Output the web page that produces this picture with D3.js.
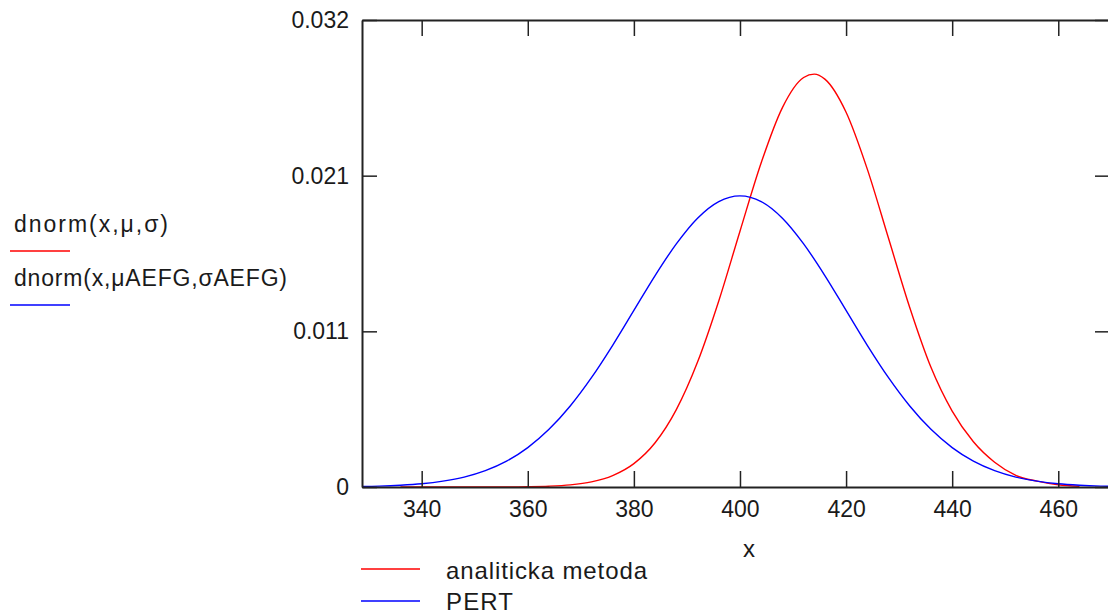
<!DOCTYPE html>
<html>
<head>
<meta charset="utf-8">
<script src="https://cdn.jsdelivr.net/npm/d3@7"></script>
<style>
  html, body { margin: 0; padding: 0; background: #fff; }
  svg { display: block; font-family: "Liberation Sans", Arial, sans-serif; }
</style>
</head>
<body>
<svg id="chart" width="1108" height="615"></svg>
<script>
// ---- data ----
const redX  = [336, 340, 344, 348, 352, 356, 360, 364, 368, 372, 376, 380, 384, 388, 392, 396, 400, 404, 408, 412, 414, 416, 420, 424, 428, 432, 436, 440, 444, 448, 452, 456, 460, 464];
const redY  = [0, 0, 0, 0, 0.000002, 0.000006, 0.00002, 0.000055, 0.000145, 0.00035, 0.00078, 0.0016, 0.00303, 0.0053, 0.00856, 0.01275, 0.01753, 0.02222, 0.0260, 0.02806, 0.02829, 0.02795, 0.02568, 0.02178, 0.01704, 0.0123, 0.0082, 0.0052, 0.0031, 0.0017, 0.0008, 0.0004, 0.00015, 0.00005];
const blueX = [328, 332, 336, 340, 344, 348, 352, 356, 360, 364, 368, 372, 376, 380, 384, 388, 392, 396, 400, 404, 408, 412, 416, 420, 424, 428, 432, 436, 440, 444, 448, 452, 456, 460, 464, 468, 472];
const blueY = [0.00003, 0.00006, 0.00012, 0.00022, 0.0004, 0.00068, 0.00112, 0.00177, 0.0027, 0.00395, 0.00555, 0.00749, 0.00971, 0.0121, 0.01449, 0.01666, 0.01842, 0.01956, 0.01995, 0.01956, 0.01842, 0.01666, 0.01449, 0.0121, 0.00971, 0.00749, 0.00555, 0.00395, 0.0027, 0.00177, 0.00112, 0.00068, 0.0004, 0.00022, 0.00012, 0.00006, 0.00003];
const xTicks = [340, 360, 380, 400, 420, 440, 460];
const yMax = 0.032;
const yTicks = [0, yMax / 3, 2 * yMax / 3, yMax];
const yTickLabels = ["0", "0.011", "0.021", "0.032"];
const seriesNames = ["analiticka metoda", "PERT"];
const leftLegendNames = ["dnorm(x,\u03bc,\u03c3)", "dnorm(x,\u03bcAEFG,\u03c3AEFG)"];
const xLabel = "x";

// ---- layout ----
const svg = d3.select("#chart");
const L = 362, R = 1110, T = 20, B = 487;
const x = d3.scaleLinear().domain([328.75, 469.75]).range([L, R]);
const y = d3.scaleLinear().domain([0, yMax]).range([B, T]);
const axisColor = "#222";
const textColor = "#1a1a1a";

svg.append("defs").append("clipPath").attr("id", "plotclip")
  .append("rect").attr("x", L).attr("y", T - 2).attr("width", R - L).attr("height", B - T + 2);

// curves
const line = d3.line().x(d => x(d[0])).y(d => y(d[1])).curve(d3.curveMonotoneX);
const g = svg.append("g").attr("clip-path", "url(#plotclip)");
g.append("path").datum(d3.zip(redX, redY)).attr("d", line)
  .attr("fill", "none").attr("stroke", "#ff0000").attr("stroke-width", 1.4);
g.append("path").datum(d3.zip(blueX, blueY)).attr("d", line)
  .attr("fill", "none").attr("stroke", "#0000ff").attr("stroke-width", 1.4);

// axes
function styleAxis(sel) {
  sel.select(".domain").attr("stroke", axisColor).attr("stroke-width", 2);
  sel.selectAll(".tick line").attr("stroke", axisColor).attr("stroke-width", 1.5);
  sel.selectAll(".tick text").attr("fill", textColor).style("font-size", "23px");
}
const xAxis = svg.append("g").attr("transform", `translate(0,${B})`)
  .call(d3.axisBottom(x).tickValues(xTicks).tickSizeInner(-16).tickSizeOuter(0).tickPadding(14).tickFormat(d3.format("d")));
styleAxis(xAxis);
const xTop = svg.append("g").attr("transform", `translate(0,${T})`)
  .call(d3.axisTop(x).tickValues(xTicks).tickSizeInner(-16).tickSizeOuter(0).tickFormat(""));
styleAxis(xTop);
const yAxis = svg.append("g").attr("transform", `translate(${L},0)`)
  .call(d3.axisLeft(y).tickValues(yTicks).tickSizeInner(-15).tickSizeOuter(0).tickPadding(13)
    .tickFormat((d, i) => yTickLabels[i]));
styleAxis(yAxis);
const yRight = svg.append("g").attr("transform", `translate(${R},0)`)
  .call(d3.axisRight(y).tickValues(yTicks).tickSizeInner(-15).tickSizeOuter(0).tickFormat(""));
styleAxis(yRight);

// x label
svg.append("text").attr("x", 749).attr("y", 557).attr("text-anchor", "middle")
  .attr("fill", textColor).style("font-size", "24px").text(xLabel);

// left legend
const leftColors = ["#ff0000", "#0000ff"];
const leftBase = [232, 286];
const leftWidths = [154, 273];
leftLegendNames.forEach((name, i) => {
  svg.append("text").attr("x", 14).attr("y", leftBase[i]).attr("fill", textColor)
    .attr("textLength", leftWidths[i]).attr("lengthAdjust", "spacing")
    .style("font-size", "23px").text(name);
  svg.append("line").attr("x1", 10).attr("x2", 70)
    .attr("y1", leftBase[i] + 19).attr("y2", leftBase[i] + 19)
    .attr("stroke", leftColors[i]).attr("stroke-width", 1.5);
});

// bottom legend
const botBase = [579, 610];
const botWidths = [201, 67];
seriesNames.forEach((name, i) => {
  svg.append("line").attr("x1", 361).attr("x2", 420)
    .attr("y1", [569, 601][i]).attr("y2", [569, 601][i])
    .attr("stroke", leftColors[i]).attr("stroke-width", 1.5);
  svg.append("text").attr("x", 446).attr("y", botBase[i]).attr("fill", textColor)
    .attr("textLength", botWidths[i]).attr("lengthAdjust", "spacing")
    .style("font-size", "24px").text(name);
});
</script>
</body>
</html>
